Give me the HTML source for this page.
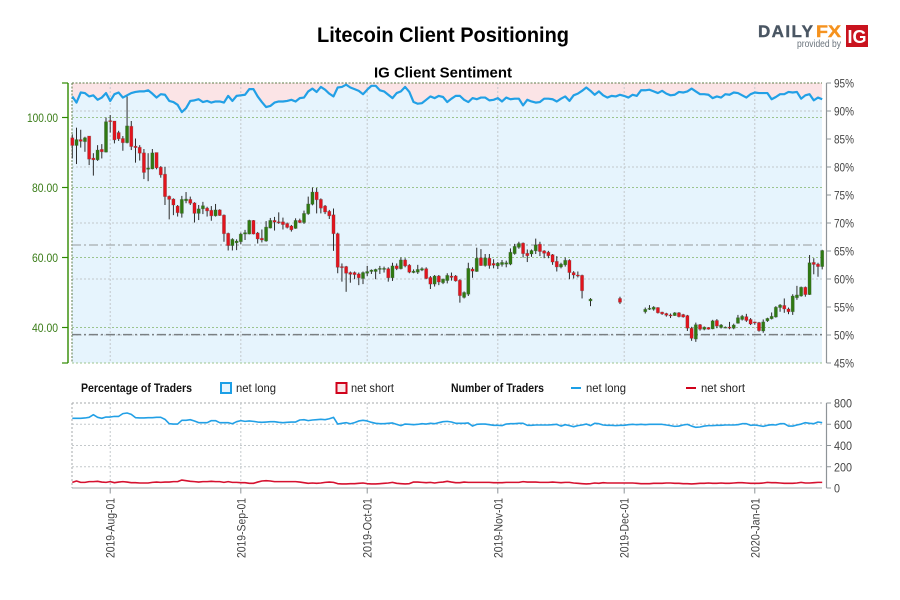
<!DOCTYPE html>
<html lang="en">
<head>
<meta charset="utf-8">
<title>Litecoin Client Positioning</title>
<style>
html,body{margin:0;padding:0;background:#fff;width:900px;height:600px;overflow:hidden}
svg{display:block;font-family:"Liberation Sans",sans-serif}
.narrow{font-family:"Liberation Sans Narrow","Liberation Sans",sans-serif}
</style>
</head>
<body>
<svg id="chart" xmlns="http://www.w3.org/2000/svg" width="900" height="600" viewBox="0 0 900 600">
  <rect x="0" y="0" width="900" height="600" fill="#ffffff"/>
  <text x="443" y="42" text-anchor="middle" font-size="21" font-weight="bold" fill="#000" textLength="252" lengthAdjust="spacingAndGlyphs">Litecoin Client Positioning</text>
  <text x="443" y="77.5" text-anchor="middle" font-size="15" font-weight="bold" fill="#000" textLength="138" lengthAdjust="spacingAndGlyphs">IG Client Sentiment</text>

  <g>
    <text x="758" y="37" font-size="17" font-weight="bold" fill="#4a5663" stroke="#4a5663" stroke-width="0.4" textLength="55" lengthAdjust="spacing">DAILY</text>
    <text x="816" y="37" font-size="17" font-weight="bold" fill="#f5921e" stroke="#f5921e" stroke-width="0.4" textLength="25" lengthAdjust="spacingAndGlyphs">FX</text>
    <text x="797" y="47" font-size="10" fill="#6b747d" textLength="44" lengthAdjust="spacingAndGlyphs">provided by</text>
    <rect x="846" y="25" width="22" height="22" fill="#c9131e"/>
    <text x="857" y="43" text-anchor="middle" font-size="18" font-weight="bold" fill="#fff">IG</text>
  </g>

  <g id="upperPanel"></g>
  <g id="lowerPanel"></g>

  <g class="narrow" font-size="12" fill="#222">
    <text x="81" y="392" font-weight="bold" fill="#111" textLength="111" lengthAdjust="spacingAndGlyphs">Percentage of Traders</text>
    <rect x="221" y="383" width="10" height="10" fill="#e6f4fd" stroke="#1c9fe6" stroke-width="2"/>
    <text x="236" y="392" textLength="40" lengthAdjust="spacingAndGlyphs">net long</text>
    <rect x="336.5" y="383" width="10" height="10" fill="#fbe6e8" stroke="#d0021b" stroke-width="2"/>
    <text x="351" y="392" textLength="43" lengthAdjust="spacingAndGlyphs">net short</text>
    <text x="451" y="392" font-weight="bold" fill="#111" textLength="93" lengthAdjust="spacingAndGlyphs">Number of Traders</text>
    <line x1="571" y1="388" x2="581" y2="388" stroke="#1c9fe6" stroke-width="2"/>
    <text x="586" y="392" textLength="40" lengthAdjust="spacingAndGlyphs">net long</text>
    <line x1="686" y1="388" x2="696" y2="388" stroke="#d0021b" stroke-width="2"/>
    <text x="701" y="392" textLength="44" lengthAdjust="spacingAndGlyphs">net short</text>
  </g>
</svg>

<script>
// ---- data ----
const tickDates = ['2019-Aug-01','2019-Sep-01','2019-Oct-01','2019-Nov-01','2019-Dec-01','2020-Jan-01'];
const tickDayIndex = [9,40,70,101,131,162];
const priceTicks = [100,80,60,40];
const pctTicks = [95,90,85,80,75,70,65,60,55,50,45];
const pctGrid = [90,80,70,60,50];
const countTicks = [800,600,400,200,0];
const levelLight = [63.57];
const levelDark = [37.95];

const opens = [
94.2,92.0,93.7,93.1,94.7,88.4,87.9,90.9,90.1,99.1,
99.0,95.7,94.0,92.8,97.5,91.8,91.5,89.9,85.2,85.3,
90.0,85.8,83.8,77.5,76.7,74.7,72.6,76.2,76.6,75.6,
72.6,73.9,74.1,73.5,71.9,73.6,72.1,66.9,63.4,64.2,
64.5,66.7,66.7,70.6,67.0,65.5,64.7,68.4,70.6,70.2,
70.2,69.7,69.0,68.3,70.6,70.0,72.5,75.2,78.7,76.6,
74.7,73.2,72.2,66.8,57.4,57.4,55.7,55.7,55.3,54.0,
55.5,56.0,56.0,56.6,56.6,56.8,54.2,57.6,56.8,59.3,
57.8,55.7,55.8,56.4,56.8,54.3,52.4,54.7,52.8,53.4,
54.7,54.7,53.5,48.6,49.5,56.7,56.0,59.9,57.7,59.8,
58.3,57.6,58.0,58.1,58.1,61.1,62.9,64.1,61.2,61.0,
61.9,63.8,61.9,61.5,60.8,58.9,57.3,57.9,59.2,55.7,
55.0,54.9,null,47.6,null,null,null,null,null,null,
48.3,null,null,null,null,null,44.5,45.2,45.2,45.7,
44.4,44.0,43.6,43.4,44.2,43.7,43.4,39.8,36.7,40.8,
39.5,40.0,39.6,42.0,40.0,40.0,40.1,39.8,41.2,42.3,
43.1,42.3,41.6,41.4,39.0,41.9,42.5,43.0,45.7,46.3,
45.3,44.5,48.5,49.0,51.5,49.4,58.6,58.1,57.4];

const highs = [
95.2,97.1,96.5,94.5,94.7,89.8,92.1,92.4,100.0,100.7,
99.0,96.2,94.7,106.0,99.0,94.0,92.1,91.0,89.8,91.0,
90.0,86.1,85.9,77.7,76.9,75.0,77.6,78.7,77.4,75.8,
75.0,75.9,74.5,74.7,75.3,73.8,72.3,67.1,65.5,65.2,
67.1,67.9,70.8,70.7,67.3,68.0,70.4,71.3,71.6,72.9,
71.4,70.0,69.3,71.2,71.1,73.4,77.4,80.0,79.9,76.9,
75.0,73.6,74.0,67.1,58.3,57.6,56.0,56.0,55.7,56.0,
57.6,56.6,56.8,57.6,57.4,57.2,58.5,58.3,60.0,59.8,
58.1,56.6,57.9,57.2,57.2,54.7,55.0,55.0,54.0,55.5,
55.7,55.0,53.8,50.3,58.5,57.2,62.8,62.4,61.0,61.0,
59.5,58.7,59.3,59.1,62.6,63.9,64.5,64.3,62.3,62.3,
65.4,64.5,62.1,61.9,61.0,60.4,58.5,60.0,59.5,56.1,
56.0,55.1,null,48.4,null,null,null,null,null,null,
48.8,null,null,null,null,null,45.7,46.4,46.1,45.8,
44.5,44.2,44.0,44.4,44.4,43.9,43.6,40.2,41.4,41.0,
40.3,40.1,42.2,42.4,41.0,40.3,41.6,41.1,43.6,43.6,
43.9,42.7,41.7,41.6,42.3,42.8,44.3,46.1,46.7,48.3,
45.7,49.5,51.9,51.7,51.7,60.7,59.8,58.5,62.2];

const lows = [
88.3,86.7,91.4,90.2,86.4,83.4,87.6,88.3,90.0,95.7,
92.6,93.3,90.5,92.6,90.7,87.1,87.7,82.4,81.8,85.2,
85.2,82.8,75.0,70.9,72.1,71.7,71.4,75.5,75.0,70.0,
70.7,72.4,71.7,70.5,71.7,71.9,64.5,62.0,62.0,62.1,
63.8,65.0,66.6,66.6,64.0,64.3,64.5,68.3,67.7,69.6,
68.0,68.3,67.4,68.2,69.8,69.6,72.2,74.9,72.6,72.6,
72.4,71.0,61.9,55.5,53.1,50.2,52.8,53.8,52.1,52.4,
54.7,55.3,53.8,55.3,55.7,53.1,53.3,56.4,56.6,57.2,
55.5,55.5,55.3,56.1,53.8,51.0,51.7,52.1,52.4,52.6,
53.4,53.1,47.1,48.3,49.0,54.2,55.9,57.6,57.4,56.8,
56.9,56.7,57.4,57.2,57.8,60.8,62.5,60.0,58.7,60.2,
61.0,60.4,59.8,59.8,57.9,56.0,56.9,57.4,53.8,54.0,
54.3,48.3,null,46.1,null,null,null,null,null,null,
46.7,null,null,null,null,null,44.0,45.0,44.8,44.0,
43.6,43.1,42.7,43.3,42.9,42.8,39.0,36.2,35.9,39.1,
39.2,39.4,39.5,39.8,39.7,39.8,39.5,39.5,41.1,42.0,
41.6,40.7,40.8,38.8,38.5,41.6,42.3,42.8,44.5,44.2,
43.8,43.6,47.9,48.8,48.8,49.3,55.2,54.5,56.6];

const closes = [
92.0,93.7,93.2,94.2,88.1,87.9,90.7,90.2,98.8,98.8,
93.6,93.9,92.8,97.6,91.7,91.4,89.8,84.3,85.6,89.9,
85.6,83.6,77.4,76.6,75.0,72.8,76.6,76.7,75.5,72.6,
73.9,74.8,73.3,71.9,73.6,72.0,66.8,63.4,65.2,64.7,
66.7,67.1,70.6,66.7,65.3,65.0,68.7,70.6,70.1,70.0,
69.4,68.6,67.9,70.6,70.0,72.6,75.3,78.7,76.5,74.1,
73.0,71.9,66.8,57.2,57.1,55.5,55.2,55.1,54.2,55.7,
56.0,56.4,56.6,56.9,56.9,54.2,57.6,56.8,59.3,57.6,
55.8,56.1,56.6,56.8,54.0,52.4,54.7,53.0,53.8,54.9,
54.3,53.3,49.1,50.0,56.9,56.1,59.8,57.7,59.9,57.7,
57.8,58.4,58.6,58.5,61.5,63.2,64.0,61.1,60.5,62.0,
63.6,61.7,61.2,60.5,58.7,57.3,58.1,59.2,55.7,55.0,
54.7,50.5,null,48.1,null,null,null,null,null,null,
47.2,null,null,null,null,null,45.2,45.5,45.8,44.2,
43.9,43.5,43.4,44.2,43.1,43.0,39.8,36.9,40.8,39.5,
40.1,39.5,41.9,40.4,40.7,40.1,40.0,40.7,42.8,43.2,
42.0,41.0,41.3,39.1,41.6,42.6,43.2,45.8,46.4,45.3,
44.5,49.0,49.3,51.5,49.4,58.5,58.0,57.4,62.0];

const netLongPct = [
92.6,91.5,93.3,93.2,92.6,92.8,92.0,92.4,93.2,91.8,
93.0,93.3,92.4,92.8,93.2,93.4,93.5,93.5,93.7,93.1,
92.4,93.0,92.9,91.8,91.6,91.1,89.8,90.5,91.8,91.9,
92.1,91.6,91.8,91.5,91.7,91.7,91.5,92.7,91.8,92.7,
92.8,92.9,93.9,93.9,92.6,91.6,90.7,90.9,91.5,91.7,
91.7,91.8,92.0,91.7,92.3,92.4,93.5,94.0,93.4,94.3,
93.8,93.1,92.6,94.2,94.3,94.7,94.2,93.9,93.6,93.0,
93.8,94.5,94.5,93.7,93.5,92.9,92.3,93.2,93.5,94.3,
93.4,91.6,91.3,91.4,92.0,92.6,92.3,92.7,92.5,91.6,
92.2,92.7,92.7,92.0,91.6,92.3,92.1,92.4,92.4,91.9,
92.0,92.3,91.7,92.4,92.1,92.2,92.2,91.0,92.0,91.7,
91.5,91.6,92.2,92.2,92.1,91.7,92.2,92.6,91.8,92.8,
93.1,93.6,94.2,93.6,92.9,93.5,92.8,92.4,92.7,92.6,
92.9,92.7,92.4,92.9,92.7,93.7,93.7,93.8,93.5,93.2,
93.6,93.1,92.8,92.9,93.4,93.3,93.5,94.0,93.5,93.0,
93.0,92.9,92.3,92.6,92.4,93.0,92.9,93.3,93.2,92.8,
92.4,93.0,93.3,93.2,93.2,93.2,92.1,92.5,93.0,93.0,
93.4,93.3,93.4,92.2,92.8,93.0,91.9,92.4,92.1];

const netLongCount = [
656,656,656,659,665,690,665,656,668,668,
674,674,700,706,693,662,659,659,662,662,
665,665,646,605,602,602,637,637,643,631,
615,615,615,634,634,615,615,615,605,624,
634,627,631,627,621,618,621,624,624,618,
615,618,621,621,640,643,634,640,643,646,
643,652,665,602,609,615,605,615,631,637,
631,618,609,605,605,609,612,599,587,602,
599,596,599,605,602,609,605,615,624,627,
621,609,609,609,612,583,599,602,602,596,
590,590,587,602,605,605,609,609,590,590,
593,593,593,593,596,599,583,596,587,577,
587,593,602,587,609,605,593,590,590,587,
590,590,596,599,596,599,596,599,599,599,
599,593,587,580,583,593,599,583,571,574,
583,587,587,590,590,593,593,593,596,605,
605,590,593,587,580,590,596,593,605,605,
583,583,593,602,615,609,605,621,615];

const netShortCount = [
53,66,53,53,60,60,63,56,53,60,
50,56,60,56,50,50,47,47,47,53,
56,53,56,56,60,60,75,69,63,60,
56,60,60,63,60,60,53,60,53,53,
50,50,44,44,56,66,69,66,60,60,
60,60,60,60,56,50,44,47,44,47,
53,56,53,41,38,38,41,41,44,47,
41,38,38,41,44,47,53,44,41,38,
41,56,56,53,50,53,47,53,56,63,
56,50,50,56,53,53,53,53,53,53,
50,50,50,53,53,53,53,60,56,56,
56,53,53,53,56,53,50,53,53,47,
44,41,38,41,47,44,50,47,47,47,
47,47,47,47,44,41,41,41,44,44,
44,47,47,44,44,41,41,38,41,44,
44,47,44,44,47,44,44,47,50,50,
47,44,44,44,47,53,50,50,47,44,
44,44,47,53,47,47,50,53,53];

// ---- axis functions ----
const SVG_NS = 'http://www.w3.org/2000/svg';
const plotLeft = 72, plotRight = 822, plotTop = 83, plotBottom = 363;
const lowTop = 403, lowBottom = 488;
function xAt(i){ return 72.3 + i * (822.2 - 72.3) / (closes.length - 1); }
function priceY(p){ return 117.5 + (100 - p) * 3.5; }
function pctY(v){ return 83 + (95 - v) * 5.6; }
function countY(v){ return 488 - v * 0.10625; }

function make(tag, parent, attrs){
  const el = document.createElementNS(SVG_NS, tag);
  for (const k in attrs) el.setAttribute(k, attrs[k]);
  parent.appendChild(el);
  return el;
}
function hLine(parent, y, x1, x2, color, dash, sw){
  return make('line', parent, {x1:x1, x2:x2, y1:y, y2:y, stroke:color, 'stroke-width':sw || 1, 'stroke-dasharray':dash || 'none'});
}
function vLine(parent, x, y1, y2, color, dash, sw){
  return make('line', parent, {x1:x, x2:x, y1:y1, y2:y2, stroke:color, 'stroke-width':sw || 1, 'stroke-dasharray':dash || 'none'});
}
function label(parent, x, y, str, anchor, color, width){
  const t = make('text', parent, {x:x, y:y, 'text-anchor':anchor, fill:color, 'font-size':12, 'class':'narrow', textLength:width, lengthAdjust:'spacingAndGlyphs'});
  t.textContent = str;
  return t;
}

const upper = document.getElementById('upperPanel');
const lower = document.getElementById('lowerPanel');

// ---- upper panel background ----
const pink = make('rect', upper, {x:plotLeft, y:plotTop, width:plotRight-plotLeft, height:plotBottom-plotTop, fill:'#fbe4e6'});



let areaPts = plotLeft + ',' + plotBottom + ' ' + plotLeft + ',' + pctY(netLongPct[0]);
netLongPct.forEach(function(v, i){ areaPts += ' ' + xAt(i).toFixed(2) + ',' + pctY(v).toFixed(2); });
areaPts += ' ' + plotRight + ',' + pctY(netLongPct[netLongPct.length-1]).toFixed(2) + ' ' + plotRight + ',' + plotBottom;
const blue = make('polygon', upper, {points:areaPts, fill:'#e6f4fd'});



// ---- upper grid ----
const gridGray = '#c3c8cb';
pctGrid.forEach(function(v){
  const g = hLine(upper, pctY(v), plotLeft, plotRight, gridGray, '2,2');
  
  
});
priceTicks.forEach(function(v){
  const g = hLine(upper, priceY(v), plotLeft, plotRight, '#9cc48e', '2,2');
  
  
});
tickDayIndex.forEach(function(i){
  const g = vLine(upper, xAt(i), plotTop, plotBottom, gridGray, '2,2');
  
  
});
const frameTop = hLine(upper, plotTop, plotLeft, plotRight, '#5f7d4a', '2,1.5');


const frameBottom = hLine(upper, plotBottom, plotLeft, plotRight, '#9cc48e', '2,2');


const frameLeft = vLine(upper, plotLeft, plotTop, plotBottom, '#5f7d4a', '2,1.5');



// ---- reference levels ----
levelLight.forEach(function(v){
  const l = hLine(upper, priceY(v), plotLeft, plotRight, '#a6acb0', '9,3,2,3', 1.3);
  
  
});
levelDark.forEach(function(v){
  const l = hLine(upper, priceY(v), plotLeft, plotRight, '#7a7f83', '9,3,2,3', 1.5);
  
  
});

// ---- candles ----
closes.forEach(function(c, i){
  if (c === null) return;
  const o = opens[i], x = xAt(i);
  const group = make('g', upper, {});
  
  
  const wick = vLine(group, x, priceY(highs[i]), priceY(lows[i]), '#2b2b2b', 'none', 1);
  
  
  const top = Math.max(o, c), bottom = Math.min(o, c);
  const body = make('rect', group, {
    x: x - 1.6, y: priceY(top), width: 3.2, height: Math.max(priceY(bottom) - priceY(top), 1),
    fill: c >= o ? '#2f7a12' : '#e2141d', stroke: 'rgba(70,70,70,.28)', 'stroke-width': 0.8
  });
  
  
});

// ---- sentiment line ----
const sentiment = make('polyline', upper, {
  points: netLongPct.map(function(v, i){ return xAt(i).toFixed(2) + ',' + pctY(v).toFixed(2); }).join(' '),
  fill: 'none', stroke: '#22a0e6', 'stroke-width': 2.2, 'stroke-linejoin': 'round'
});



// ---- left price axis ----
const leftAxis = vLine(upper, 68, plotTop, plotBottom, '#2f8a00', 'none', 1.4);


[plotTop, plotBottom].forEach(function(y){
  const t = hLine(upper, y, 62, 68, '#2f8a00', 'none', 1.2);
  
  
});
priceTicks.forEach(function(v){
  const t = hLine(upper, priceY(v), 62, 68, '#2f8a00', 'none', 1.2);
  
  
  const s = v.toFixed(2);
  const lab = label(upper, 58, priceY(v) + 4.5, s, 'end', '#3a7d18', s.length > 5 ? 31 : 26);
  
  
});

// ---- right percent axis ----
const rightAxis = vLine(upper, 826.5, plotTop, plotBottom, '#8e9498', 'none', 1.2);


pctTicks.forEach(function(v){
  const t = hLine(upper, pctY(v), 826.5, 831, '#8e9498', 'none', 1);
  
  
  const lab = label(upper, 834, pctY(v) + 4.5, v + '%', 'start', '#444', 20);
  
  
});

// ---- lower panel grid ----
const lowFrameTop = hLine(lower, lowTop, plotLeft, plotRight, '#a4a8ab', '2,2');


const lowFrameLeft = vLine(lower, plotLeft, lowTop, lowBottom, '#a4a8ab', '2,2');


countTicks.forEach(function(v){
  if (v !== 0 && v !== 800) {
    const g = hLine(lower, countY(v), plotLeft, plotRight, gridGray, '2,2');
    
    
  }
  const t = hLine(lower, countY(v), 826.5, 831, '#8e9498', 'none', 1);
  
  
  const s = String(v);
  const lab = label(lower, 834, countY(v) + 4.5, s, 'start', '#444', s.length > 1 ? 18 : 6);
  
  
});
const countAxis = vLine(lower, 826.5, lowTop, lowBottom, '#8e9498', 'none', 1.2);


const dateAxis = hLine(lower, lowBottom, plotLeft, plotRight, '#a4a8ab', 'none', 1);



tickDayIndex.forEach(function(i, n){
  const x = xAt(i);
  const g = vLine(lower, x, lowTop, lowBottom, gridGray, '2,2');
  
  
  const t = vLine(lower, x, lowBottom, 493.5, '#8e9498', 'none', 1);
  
  
  const lab = label(lower, 0, 0, tickDates[n], 'end', '#444', 60);
  lab.setAttribute('transform', 'translate(' + (x + 4.5) + ',498) rotate(-90)');
  
  
});

// ---- trader count lines ----
const longLine = make('polyline', lower, {
  points: netLongCount.map(function(v, i){ return xAt(i).toFixed(2) + ',' + countY(v).toFixed(2); }).join(' '),
  fill: 'none', stroke: '#22a0e6', 'stroke-width': 1.6, 'stroke-linejoin': 'round'
});


const shortLine = make('polyline', lower, {
  points: netShortCount.map(function(v, i){ return xAt(i).toFixed(2) + ',' + countY(v).toFixed(2); }).join(' '),
  fill: 'none', stroke: '#d5112f', 'stroke-width': 1.6, 'stroke-linejoin': 'round'
});


</script>
</body>
</html>
